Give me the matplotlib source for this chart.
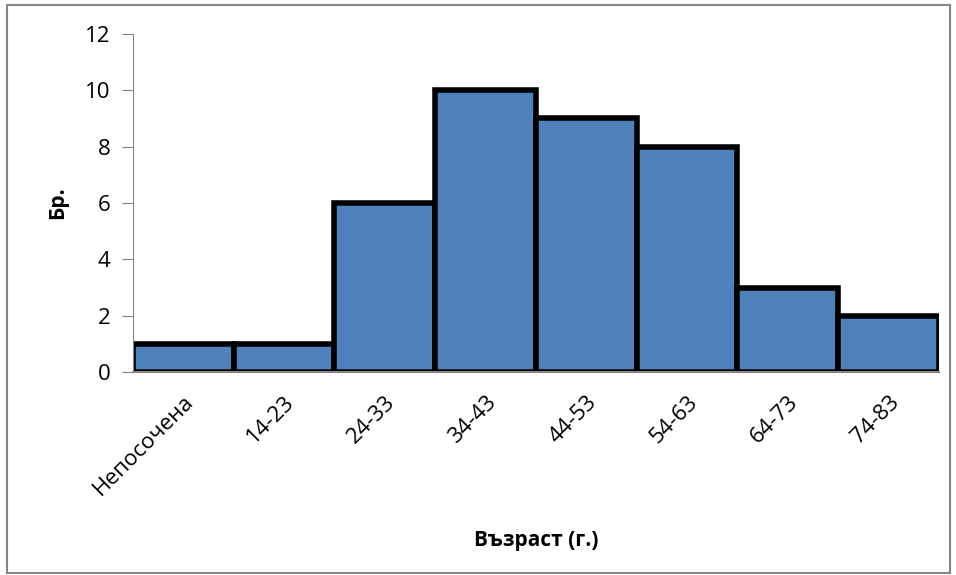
import matplotlib
matplotlib.use('Agg')
import matplotlib.pyplot as plt
from matplotlib.patches import Rectangle

categories = ["Непосочена", "14-23", "24-33", "34-43", "44-53", "54-63", "64-73", "74-83"]
counts = [1, 1, 6, 10, 9, 8, 3, 2]
yticks = [0, 2, 4, 6, 8, 10, 12]

plt.rcParams['font.family'] = ['Open Sans', 'DejaVu Sans']

fig = plt.figure(figsize=(9.56, 5.75), dpi=100)
fig.patches.append(Rectangle((0.007, 0.003), 0.987, 0.988, transform=fig.transFigure,
                             fill=False, edgecolor='#868686', linewidth=1.5))
ax = fig.add_axes([0.139, 0.353, 0.843, 0.588])

x = list(range(len(categories)))
ax.bar(x, counts, width=1.0, color='#4F81BD', edgecolor='black', linewidth=4)

ax.set_xlim(-0.5, len(categories) - 0.5)
ax.set_ylim(0, 12)
ax.set_yticks(yticks)
ax.set_yticklabels([str(v) for v in yticks], fontsize=16)
ax.set_xticks(x)
ax.set_xticklabels(categories, rotation=45, ha='right', va='top', rotation_mode='anchor', fontsize=16)
ax.tick_params(axis='x', length=0, pad=14)
ax.tick_params(axis='y', length=8, color='#868686', direction='out', pad=8)

for s in ['top', 'right']:
    ax.spines[s].set_visible(False)
ax.spines['left'].set_color('#868686')
ax.spines['bottom'].set_color('#868686')
ax.spines['bottom'].set_linewidth(1.5)

ax.set_ylabel("Бр.", fontsize=15, fontweight='bold', labelpad=12)
ax.set_xlabel("Възраст (г.)", fontsize=15, fontweight='bold', labelpad=22)

fig.savefig('out.png', dpi=100)
